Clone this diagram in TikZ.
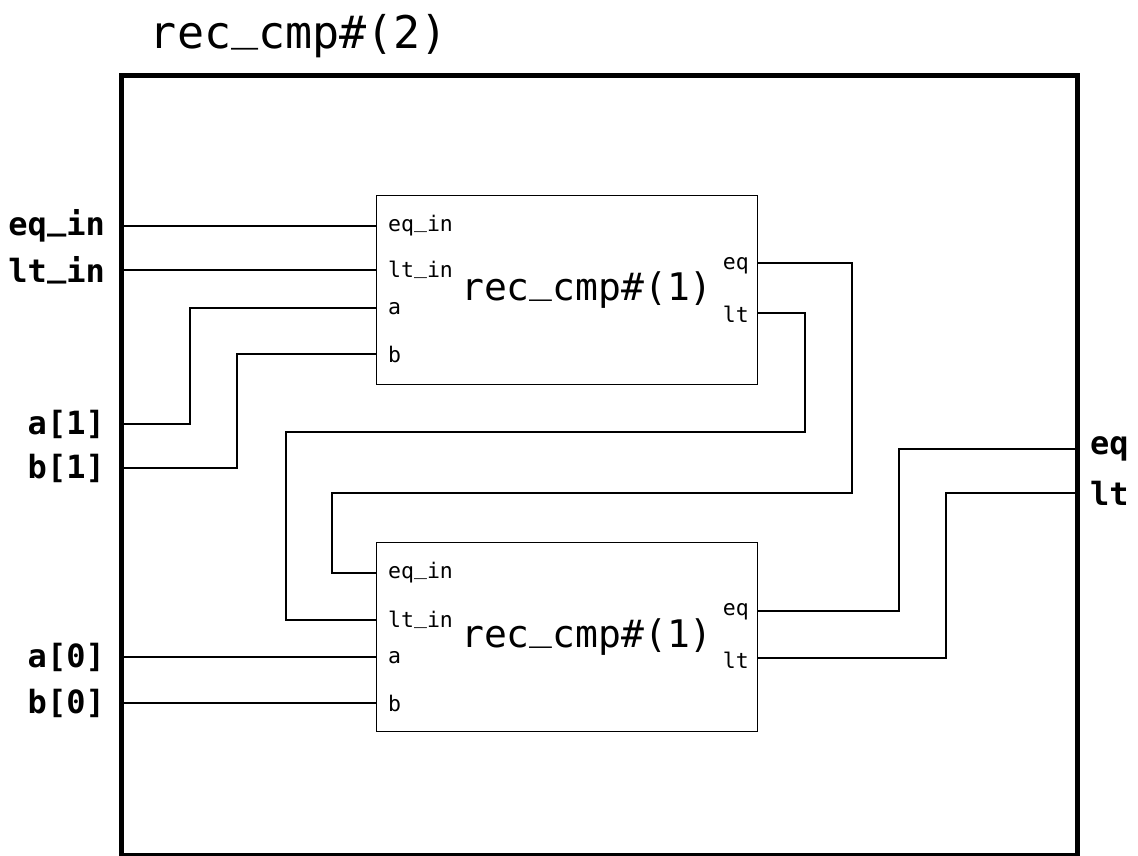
\documentclass[tikz,border=0pt]{standalone}
\usepackage{fontspec}
\setmainfont{DejaVu Sans Mono}
\newcommand{\us}{\raisebox{0.2em}{\_}}
\begin{document}
\begin{tikzpicture}[x=1pt,y=-1pt,
  wire/.style={line width=1.3pt},
  blk/.style={draw, line width=1.3pt, minimum width=381pt, minimum height=189pt, inner sep=0pt, anchor=north west},
  outer/.style={line width=5pt},
  sidelbl/.style={font=\fontsize{32}{34}\selectfont\bfseries, inner sep=0pt},
  portin/.style={font=\fontsize{21.5}{23}\selectfont, anchor=west, inner sep=0pt},
  portout/.style={font=\fontsize{21.5}{23}\selectfont, anchor=east, inner sep=0pt},
  blklbl/.style={font=\fontsize{38}{40}\selectfont, inner sep=0pt},
  title/.style={font=\fontsize{45}{47}\selectfont, inner sep=0pt}]
\useasboundingbox (0,0) rectangle (1138,856);
% outer box
\draw[outer] (121,75.5) rectangle (1077,855);
\node[title] (T) at (299,36) {rec\us cmp\#(2)};
% blocks
\node[blk] (B1) at (376,195) {};
\node[blk] (B2) at (376,542) {};
\node[blklbl] (B1L) at (587,290) {rec\us cmp\#(1)};
\node[blklbl] (B2L) at (587,637) {rec\us cmp\#(1)};
% block 1 ports
\coordinate (B1eqin) at (376,226);
\coordinate (B1ltin) at (376,270);
\coordinate (B1a) at (376,308);
\coordinate (B1b) at (376,354);
\coordinate (B1eq) at (757,263);
\coordinate (B1lt) at (757,313);
\node[portin] (p1) at (388,226) {eq\us in};
\node[portin] (p2) at (388,270) {lt\us in};
\node[portin] (p3) at (388,309) {a};
\node[portin] (p4) at (388,354) {b};
\node[portout] (p5) at (749,266) {eq};
\node[portout] (p6) at (749,314) {lt};
% block 2 ports
\coordinate (B2eqin) at (376,573);
\coordinate (B2ltin) at (376,620);
\coordinate (B2a) at (376,657);
\coordinate (B2b) at (376,703);
\coordinate (B2eq) at (757,611);
\coordinate (B2lt) at (757,658);
\node[portin] (q1) at (388,573) {eq\us in};
\node[portin] (q2) at (388,620) {lt\us in};
\node[portin] (q3) at (388,658) {a};
\node[portin] (q4) at (388,703) {b};
\node[portout] (q5) at (749,612) {eq};
\node[portout] (q6) at (749,660) {lt};
% outer ports
\coordinate (Ieqin) at (124,226);
\coordinate (Iltin) at (124,270);
\coordinate (Ia1) at (124,424);
\coordinate (Ib1) at (124,468);
\coordinate (Ia0) at (124,657);
\coordinate (Ib0) at (124,703);
\coordinate (Oeq) at (1075,449);
\coordinate (Olt) at (1075,493);
\node[sidelbl, anchor=east] (Leqin) at (105,226) {eq\us in};
\node[sidelbl, anchor=east] (Lltin) at (105,270) {lt\us in};
\node[sidelbl, anchor=east] (La1) at (105,424) {a[1]};
\node[sidelbl, anchor=east] (Lb1) at (105,468) {b[1]};
\node[sidelbl, anchor=east] (La0) at (105,657) {a[0]};
\node[sidelbl, anchor=east] (Lb0) at (105,703) {b[0]};
\node[sidelbl, anchor=west] (Leq) at (1090,449) {eq};
\node[sidelbl, anchor=west] (Llt) at (1090,493) {lt};
% wires
\draw[wire] (Ieqin) -- (B1eqin);
\draw[wire] (Iltin) -- (B1ltin);
\draw[wire] (Ia1) -| (190,308) -- (B1a);
\draw[wire] (Ib1) -| (237,354) -- (B1b);
\draw[wire] (Ia0) -- (B2a);
\draw[wire] (Ib0) -- (B2b);
\draw[wire] (B1eq) -| (852,493) -| (332,573) -- (B2eqin);
\draw[wire] (B1lt) -| (805,432) -| (286,620) -- (B2ltin);
\draw[wire] (B2eq) -| (899,449) -- (Oeq);
\draw[wire] (B2lt) -| (946,493) -- (Olt);
\end{tikzpicture}
\end{document}
